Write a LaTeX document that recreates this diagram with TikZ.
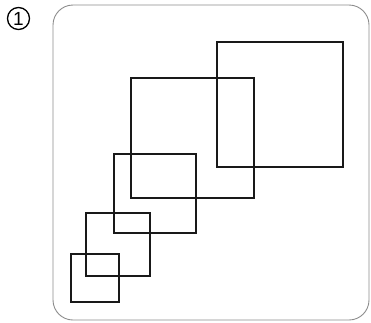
\documentclass[tikz,border=0pt]{standalone}
\usepackage{fontspec}
\setmainfont{Liberation Sans}
\begin{document}
\begin{tikzpicture}[x=1pt,y=-1pt,
  sq/.style={draw=black!90,line width=1.5pt},
  frame/.style={draw=black!45,line width=0.9pt,rounded corners=20pt},
  num/.style={circle,draw,line width=1.3pt,minimum size=22pt,inner sep=0pt,font=\fontsize{19}{19}\selectfont}]
\useasboundingbox (0,0) rectangle (371,322);
\node[num] (n1) at (18.5,18.5) {1};
\draw[frame] (53,5) rectangle (369,320);
\draw[sq] (217,42) rectangle (343,167);
\draw[sq] (131,78) rectangle (254,198);
\draw[sq] (114,154) rectangle (196,233);
\draw[sq] (86,213) rectangle (150,276);
\draw[sq] (71,254) rectangle (119,302);
\end{tikzpicture}
\end{document}
